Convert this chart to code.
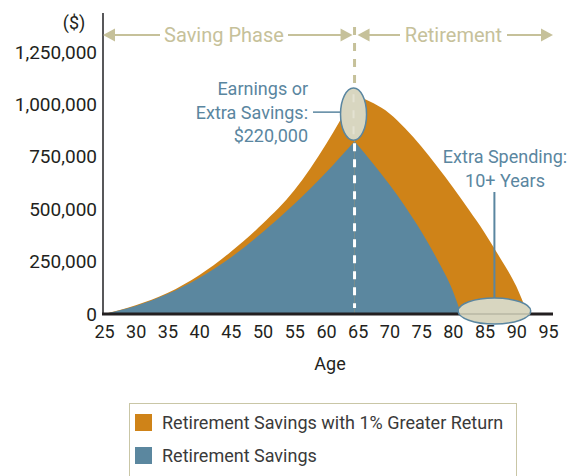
<!DOCTYPE html>
<html>
<head>
<meta charset="utf-8">
<script src="https://cdn.jsdelivr.net/npm/d3@7"></script>
<style>
  body { margin: 0; background: #fff; }
  svg { display: block; font-family: Roboto, 'Open Sans', sans-serif; }
</style>
</head>
<body>
<div id="wrapper"></div>
<script>
/* DATA (values in thousands of dollars) */
const peakAge = 64.5;

const blueAges = [25, 30, 35, 40, 45, 50, 55, 60, 64.5, 67.5, 70, 72.5, 75, 77.5, 80, 81.3];
const blueValues = [0, 38, 95, 172, 270, 390, 525, 675, 824, 715, 618, 512, 395, 262, 110, 0];

const orangeAges = [25, 30, 35, 40, 45, 50, 55, 60, 64.5, 67.5, 70, 72.5, 75, 77.5, 80, 82.5, 85, 87.5, 90, 91.8];
const orangeValues = [0, 42, 100, 185, 297, 430, 590, 810, 1045, 1005, 957, 885, 800, 705, 605, 498, 388, 265, 132, 0];

const xTicks = [25, 30, 35, 40, 45, 50, 55, 60, 65, 70, 75, 80, 85, 90, 95];
const yTicks = [0, 250000, 500000, 750000, 1000000, 1250000];

const legendLabels = ['Retirement Savings with 1% Greater Return', 'Retirement Savings'];

const colors = {
  orange: '#cf8318',
  blue: '#5b879f',
  khaki: '#c6c19a',
  ellipse: '#d8d6c0',
  ink: '#231f20',
  note: '#5a86a0',
};

function drawChart() {
  /* CHART DIMENSIONS */
  const dimensions = {
    width: 575,
    height: 476,
    margin: { top: 52, right: 27, bottom: 162, left: 104 },
  };
  dimensions.boundedWidth =
    dimensions.width - (dimensions.margin.left + dimensions.margin.right);
  dimensions.boundedHeight =
    dimensions.height - (dimensions.margin.top + dimensions.margin.bottom);

  /* SCALES */
  const xScale = d3
    .scaleLinear()
    .domain([25, 95])
    .range([dimensions.margin.left, dimensions.margin.left + dimensions.boundedWidth]);

  const yScale = d3
    .scaleLinear()
    .domain([0, 1250000])
    .range([dimensions.margin.top + dimensions.boundedHeight, dimensions.margin.top]);

  const baseY = yScale(0);

  const wrapper = d3
    .select('#wrapper')
    .append('svg')
    .attr('width', dimensions.width)
    .attr('height', dimensions.height);

  /* DRAW DATA */
  // each series is drawn as a rising half and a falling half so the peak stays sharp
  const area = d3
    .area()
    .x(d => xScale(d.age))
    .y0(baseY)
    .y1(d => yScale(d.value * 1000))
    .curve(d3.curveMonotoneX);

  function drawSeries(ages, values, color) {
    const points = ages.map((age, i) => ({ age, value: values[i] }));
    const rising = points.filter(d => d.age <= peakAge);
    const falling = points.filter(d => d.age >= peakAge);
    [rising, falling].forEach(part => {
      wrapper.append('path').attr('d', area(part)).attr('fill', color);
    });
  }

  drawSeries(orangeAges, orangeValues, colors.orange);
  drawSeries(blueAges, blueValues, colors.blue);

  /* RETIREMENT DIVIDER */
  const peakX = xScale(peakAge);
  const peakOrange = yScale(orangeValues[orangeAges.indexOf(peakAge)] * 1000);
  const peakBlue = yScale(blueValues[blueAges.indexOf(peakAge)] * 1000);

  wrapper
    .append('line')
    .attr('x1', peakX)
    .attr('x2', peakX)
    .attr('y1', 27)
    .attr('y2', peakOrange)
    .attr('stroke', colors.khaki)
    .attr('stroke-width', 3)
    .attr('stroke-dasharray', '8 8');

  wrapper
    .append('line')
    .attr('x1', peakX)
    .attr('x2', peakX)
    .attr('y1', peakBlue + 2)
    .attr('y2', baseY - 6)
    .attr('stroke', '#fff')
    .attr('stroke-width', 3)
    .attr('stroke-dasharray', '8 8');

  /* ANNOTATIONS */
  const peakCy = (peakOrange + peakBlue) / 2 - 4;
  wrapper
    .append('line')
    .attr('x1', 313)
    .attr('x2', peakX - 12)
    .attr('y1', peakCy - 2)
    .attr('y2', peakCy - 2)
    .attr('stroke', colors.note)
    .attr('stroke-width', 1.5);

  wrapper
    .append('ellipse')
    .attr('cx', peakX - 1)
    .attr('cy', peakCy)
    .attr('rx', 13)
    .attr('ry', (peakBlue - peakOrange) / 2 + 3)
    .attr('fill', colors.ellipse)
    .attr('stroke', colors.note)
    .attr('stroke-width', 1.5);

  wrapper
    .append('line')
    .attr('x1', peakX - 1)
    .attr('x2', peakX - 1)
    .attr('y1', peakCy - 20)
    .attr('y2', peakCy + 22)
    .attr('stroke', '#e4e2d2')
    .attr('stroke-width', 2)
    .attr('stroke-dasharray', '8 8');

  const savingsNote = wrapper
    .append('text')
    .attr('text-anchor', 'end')
    .attr('fill', colors.note)
    .style('font-size', '18px');
  ['Earnings or', 'Extra Savings:', '$220,000'].forEach((line, i) => {
    savingsNote
      .append('tspan')
      .attr('x', 308)
      .attr('y', 95 + i * 23.5)
      .text(line);
  });

  // extra spending band between the two run-out ages
  const runOutBlue = blueAges[blueAges.length - 1];
  const runOutOrange = orangeAges[orangeAges.length - 1];
  const spendX = (xScale(runOutBlue) + xScale(runOutOrange)) / 2;

  wrapper
    .append('line')
    .attr('x1', spendX)
    .attr('x2', spendX)
    .attr('y1', 192)
    .attr('y2', baseY - 14)
    .attr('stroke', colors.note)
    .attr('stroke-width', 2);

  const spendingNote = wrapper
    .append('text')
    .attr('text-anchor', 'middle')
    .attr('fill', colors.note)
    .style('font-size', '18px');
  ['Extra Spending:', '10+ Years'].forEach((line, i) => {
    spendingNote
      .append('tspan')
      .attr('x', 505)
      .attr('y', 163 + i * 23.5)
      .text(line);
  });

  /* PERIPHERALS */
  const yAxisGenerator = d3
    .axisLeft(yScale)
    .tickValues(yTicks)
    .tickSize(0)
    .tickPadding(7)
    .tickFormat(d3.format(','));

  const yAxis = wrapper
    .append('g')
    .attr('transform', `translate(${dimensions.margin.left}, 0)`)
    .call(yAxisGenerator);
  yAxis.select('.domain').remove();
  yAxis
    .selectAll('text')
    .attr('fill', colors.ink)
    .style('font-size', '19px')
    .style('font-family', 'Roboto, sans-serif');

  wrapper
    .append('line')
    .attr('x1', 103)
    .attr('x2', 103)
    .attr('y1', 13)
    .attr('y2', baseY)
    .attr('stroke', '#58585a')
    .attr('stroke-width', 2);

  wrapper
    .append('text')
    .attr('x', 74)
    .attr('y', 29)
    .attr('text-anchor', 'middle')
    .attr('fill', colors.ink)
    .style('font-size', '18px')
    .text('($)');

  const xAxisGenerator = d3
    .axisBottom(xScale)
    .tickValues(xTicks)
    .tickSize(0)
    .tickPadding(11);

  const xAxis = wrapper
    .append('g')
    .attr('transform', `translate(0, ${baseY})`)
    .call(xAxisGenerator);
  xAxis.select('.domain').remove();
  xAxis
    .selectAll('text')
    .attr('fill', colors.ink)
    .style('font-size', '18px')
    .style('font-family', 'Roboto, sans-serif');

  wrapper
    .append('line')
    .attr('x1', 102)
    .attr('x2', 553)
    .attr('y1', baseY)
    .attr('y2', baseY)
    .attr('stroke', colors.ink)
    .attr('stroke-width', 3);

  wrapper
    .append('text')
    .attr('x', 330)
    .attr('y', 370)
    .attr('text-anchor', 'middle')
    .attr('fill', colors.ink)
    .style('font-size', '18px')
    .text('Age');

  // ellipse over the gap between run-out ages
  wrapper
    .append('ellipse')
    .attr('cx', spendX)
    .attr('cy', baseY - 3)
    .attr('rx', (xScale(runOutOrange) - xScale(runOutBlue)) / 2 + 3)
    .attr('ry', 13)
    .attr('fill', colors.ellipse)
    .attr('stroke', colors.note)
    .attr('stroke-width', 1.5);

  wrapper
    .append('line')
    .attr('x1', xScale(runOutBlue) - 1)
    .attr('x2', xScale(runOutOrange) + 2)
    .attr('y1', baseY)
    .attr('y2', baseY)
    .attr('stroke', '#b9b7a4')
    .attr('stroke-width', 1.5);

  /* PHASE ARROWS */
  const arrowY = 35;
  const arrowHead = (tipX, dir) => {
    const l = 12;
    const h = 6.5;
    return `M${tipX},${arrowY}L${tipX - dir * l},${arrowY - h}L${tipX - dir * l},${arrowY + h}Z`;
  };
  const phases = [
    { label: 'Saving Phase', x0: 103, x1: peakX - 2, tx0: 160, tx1: 288 },
    { label: 'Retirement', x0: peakX + 3, x1: 553, tx0: 400, tx1: 507 },
  ];
  phases.forEach(p => {
    wrapper
      .append('path')
      .attr('d', `M${p.x0 + 10},${arrowY}H${p.tx0}M${p.tx1},${arrowY}H${p.x1 - 10}`)
      .attr('stroke', colors.khaki)
      .attr('stroke-width', 2);
    wrapper.append('path').attr('d', arrowHead(p.x0, -1)).attr('fill', colors.khaki);
    wrapper.append('path').attr('d', arrowHead(p.x1, 1)).attr('fill', colors.khaki);
    wrapper
      .append('text')
      .attr('x', (p.tx0 + p.tx1) / 2)
      .attr('y', arrowY + 7)
      .attr('text-anchor', 'middle')
      .attr('fill', colors.khaki)
      .style('font-size', '20px')
      .text(p.label);
  });

  /* LEGEND */
  const legend = wrapper.append('g');
  legend
    .append('rect')
    .attr('x', 129.5)
    .attr('y', 403.5)
    .attr('width', 387)
    .attr('height', 90)
    .attr('fill', '#fff')
    .attr('stroke', '#c9c6a6')
    .attr('stroke-width', 1);

  const legendItems = legend
    .selectAll('g')
    .data(legendLabels)
    .enter()
    .append('g')
    .attr('transform', (d, i) => `translate(135, ${414 + i * 33})`);

  legendItems
    .append('rect')
    .attr('width', 17)
    .attr('height', 17)
    .attr('fill', (d, i) => (i === 0 ? colors.orange : colors.blue));

  legendItems
    .append('text')
    .attr('x', 27)
    .attr('y', 15)
    .attr('fill', '#3a3a3a')
    .style('font-size', '18px')
    .text(d => d);
}

drawChart();
</script>
</body>
</html>
